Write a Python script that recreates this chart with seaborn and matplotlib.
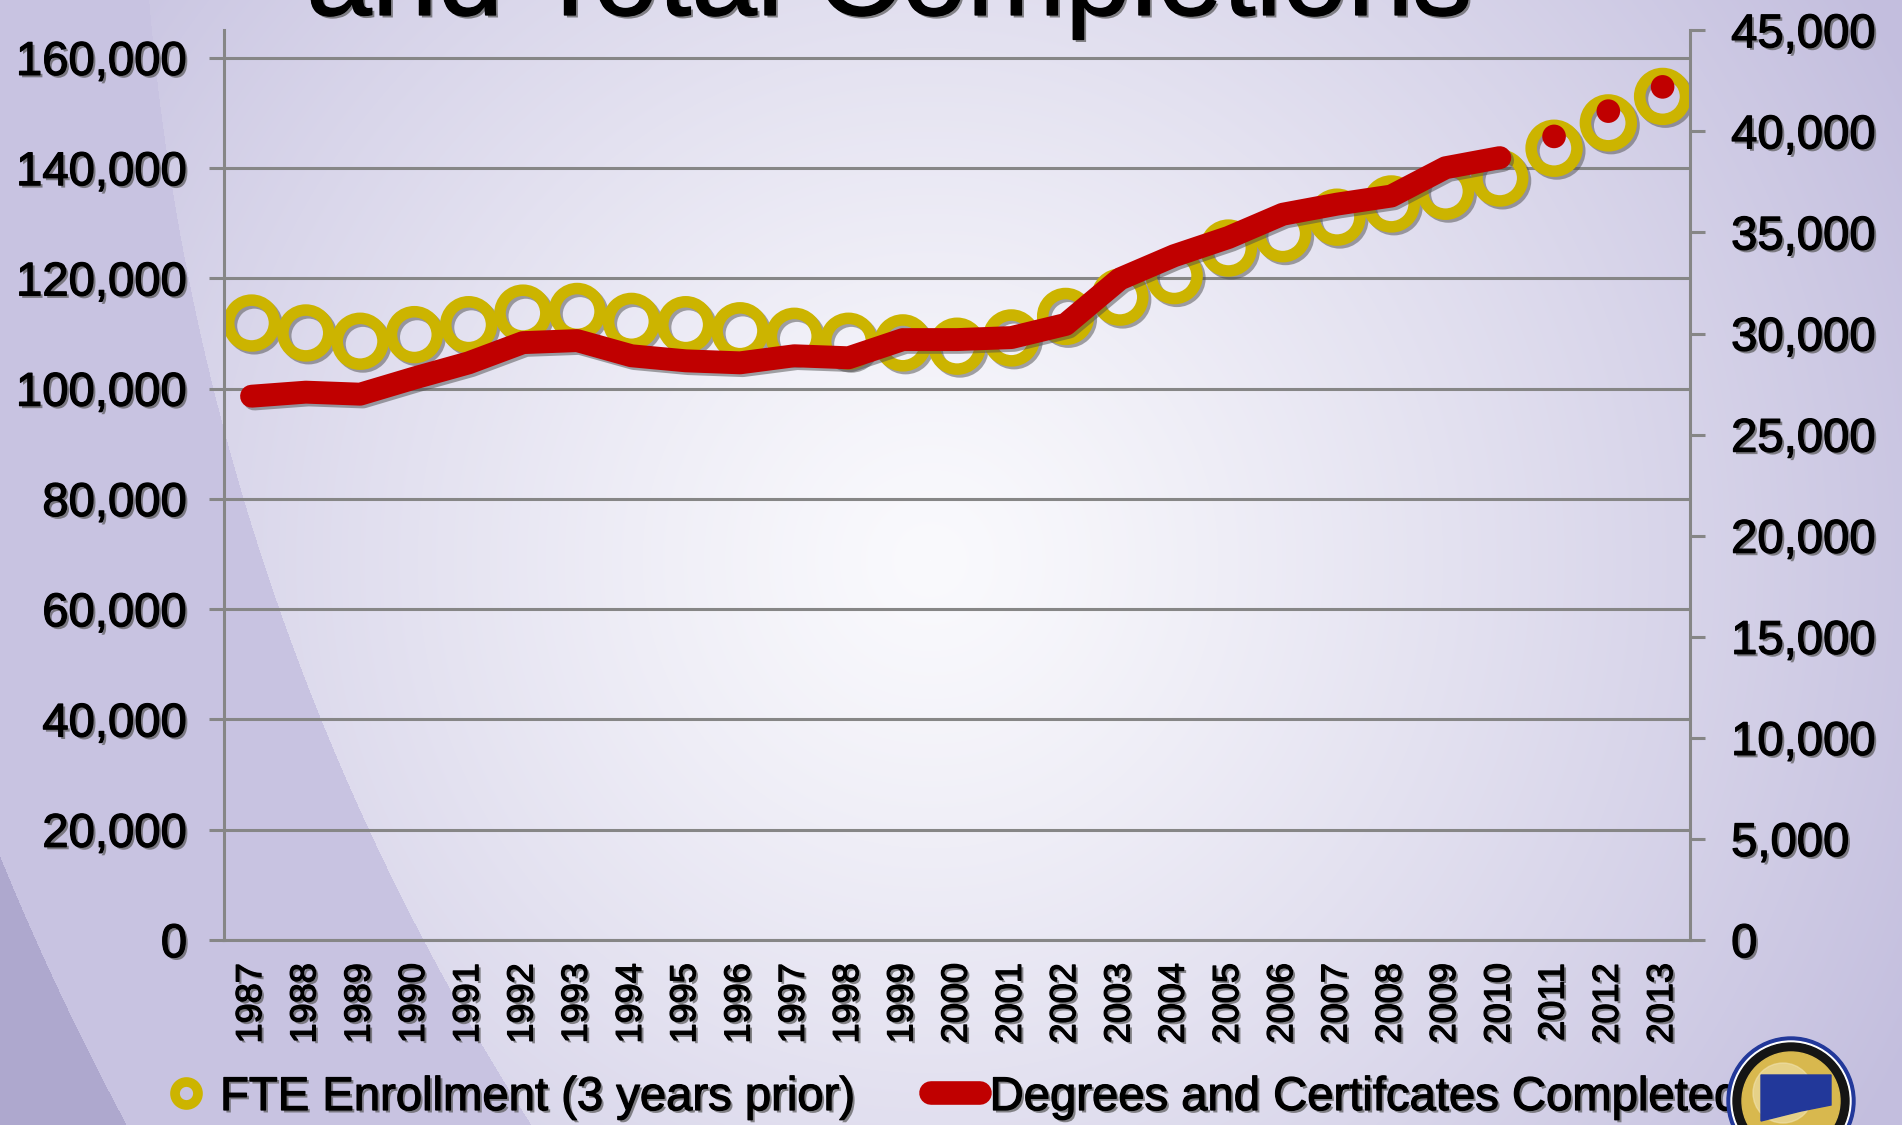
import numpy as np
import matplotlib
matplotlib.use("Agg")
import matplotlib.pyplot as plt
import matplotlib.patheffects as pe
from matplotlib.lines import Line2D
from matplotlib.patches import Circle, Polygon
from matplotlib.ticker import FuncFormatter
import seaborn as sns

# data
years = list(range(1987, 2014))
fte_enrollment = [111900, 110100, 108600, 109800, 111600, 113700, 114000, 112200, 111600,
                  110500, 109500, 108600, 108300, 107700, 109200, 113100, 116600, 120500,
                  125500, 128100, 131100, 133500, 135800, 138200, 143600, 148200, 153000]
degrees_completed = [26900, 27100, 27000, 27800, 28550, 29550, 29650, 28900, 28650,
                     28550, 28900, 28800, 29700, 29700, 29800, 30450, 32700, 33850,
                     34750, 35900, 36400, 36800, 38200, 38700, 39750, 41000, 42200]
n_connected = 24  # line runs 1987-2010, later years are single dots

left_ticks = list(range(0, 160001, 20000))
right_ticks = list(range(0, 45001, 5000))

YELLOW = "#CCB400"
RED = "#C00000"
GRAY = "#868686"

sns.set_style("white")
plt.rcParams["font.family"] = ["Liberation Sans", "DejaVu Sans"]
plt.rcParams["text.color"] = "black"
plt.rcParams["xtick.color"] = "black"
plt.rcParams["ytick.color"] = "black"

W, H = 1902, 1125
fig = plt.figure(figsize=(W / 100, H / 100), dpi=100)

# slide background: radial lavender gradient with darker arcs on the left
yy, xx = np.mgrid[0:H, 0:W]
t = np.clip(np.hypot(xx - 930, yy - 560) / 1100, 0, 1) ** 1.2
light = np.array([250, 250, 253]) / 255
lav = np.array([195, 190, 222]) / 255
img = light * (1 - t[..., None]) + lav * t[..., None]
ring = np.hypot(xx - 2603, yy + 207)
img[ring > 2463] = np.array([200, 195, 225]) / 255
img[ring > 2812] = np.array([174, 168, 206]) / 255
bg = fig.add_axes([0, 0, 1, 1], zorder=-10)
bg.imshow(img, aspect="auto", interpolation="bilinear")
bg.axis("off")

shadow = [pe.SimplePatchShadow(offset=(1.8, -1.8), shadow_rgbFace="0.35", alpha=0.7),
          pe.Stroke(linewidth=0.9, foreground="black"), pe.Normal()]
line_shadow = [pe.SimpleLineShadow(offset=(2, -2), shadow_color="0.3", alpha=0.5), pe.Normal()]

ax = fig.add_axes([0.118, 0.1644, 0.7704, 0.8087])
ax.set_facecolor("none")
ax2 = ax.twinx()

sns.lineplot(x=years, y=fte_enrollment, ax=ax, linestyle="none", marker="o",
             markersize=33, markerfacecolor="none", markeredgecolor=YELLOW,
             markeredgewidth=8.3, path_effects=line_shadow, legend=False)

sns.lineplot(x=years[:n_connected], y=degrees_completed[:n_connected], ax=ax2, color=RED,
             linewidth=16.5, solid_capstyle="round", solid_joinstyle="round",
             path_effects=line_shadow, legend=False)
sns.lineplot(x=years[n_connected:], y=degrees_completed[n_connected:], ax=ax2,
             linestyle="none", marker="o", markersize=17, markerfacecolor=RED,
             markeredgecolor=RED, markeredgewidth=0, path_effects=line_shadow, legend=False)

ax.set_xlim(years[0] - 0.5, years[-1] + 0.5)
ax.set_ylim(0, 165000)
ax2.set_ylim(0, 45000)

fmt = FuncFormatter(lambda v, p: f"{int(v):,}")
ax.set_yticks(left_ticks)
ax.yaxis.set_major_formatter(fmt)
ax2.set_yticks(right_ticks)
ax2.yaxis.set_major_formatter(fmt)

ax.set_xticks(np.arange(years[0] - 0.5, years[-1] + 1, 1))
ax.set_xticklabels([])
ax.set_xticks(years, minor=True)
ax.set_xticklabels([str(y) for y in years], minor=True, rotation=90)
ax.tick_params(axis="x", which="major", length=9.4, width=2.2, color=GRAY)
ax.tick_params(axis="x", which="minor", length=0, pad=16.5, labelsize=26)
ax.tick_params(axis="y", length=10.8, width=2.2, color=GRAY, pad=16, labelsize=34)
ax2.tick_params(axis="y", length=10.8, width=2.2, color=GRAY, pad=19, labelsize=34)
ax.set_xlabel("")
ax.set_ylabel("")
ax2.set_ylabel("")

ax.yaxis.grid(True, color=GRAY, linewidth=2.2)
ax.set_axisbelow(True)
for s in ["top", "right"]:
    ax.spines[s].set_visible(False)
for s in ["top", "left", "bottom"]:
    ax2.spines[s].set_visible(False)
for sp in [ax.spines["left"], ax.spines["bottom"], ax2.spines["right"]]:
    sp.set_color(GRAY)
    sp.set_linewidth(2.2)

for lbl in ax.get_yticklabels() + ax2.get_yticklabels() + ax.get_xticklabels(minor=True):
    lbl.set_path_effects(shadow)

# title (top line is off the slide)
fig.text(889 / W, 1 - 15 / H, "and Total Completions", ha="center", va="baseline",
         fontsize=85, path_effects=shadow)

# legend
h1 = Line2D([], [], ls="none", marker="o", ms=16.5, mfc="none", mec=YELLOW, mew=7)
h2 = Line2D([], [], color=RED, lw=17, solid_capstyle="round")
leg = fig.legend([h1, h2], ["FTE Enrollment (3 years prior)", "Degrees and Certifcates Completed"],
                 loc="center left", bbox_to_anchor=(161 / W, 1 - 1098 / H), ncol=2,
                 frameon=False, fontsize=34, handlelength=1.05, handletextpad=0.2,
                 columnspacing=1.6, borderpad=0, borderaxespad=0)
for txt in leg.get_texts():
    txt.set_path_effects(shadow)

# seal in the corner
logo = fig.add_axes([(1791 - 70) / W, 1 - (1101 + 70) / H, 140 / W, 140 / H], zorder=10)
logo.set_xlim(-70, 70)
logo.set_ylim(-70, 70)
logo.set_aspect("equal")
logo.axis("off")
logo.add_patch(Circle((0, 0), 64, color="#22389A"))
logo.add_patch(Circle((0, 0), 60, color="white"))
logo.add_patch(Circle((0, 0), 58, color="#151515"))
logo.add_patch(Circle((0, 0), 49, color="#D8B84E"))
logo.add_patch(Circle((-8, 8), 30, color="#F1E3B0", alpha=0.6))
logo.add_patch(Polygon([(-30, 26), (40, 26), (40, -4), (10, -10), (-30, -20)], color="#22389A"))

fig.savefig("out.png", dpi=100)
